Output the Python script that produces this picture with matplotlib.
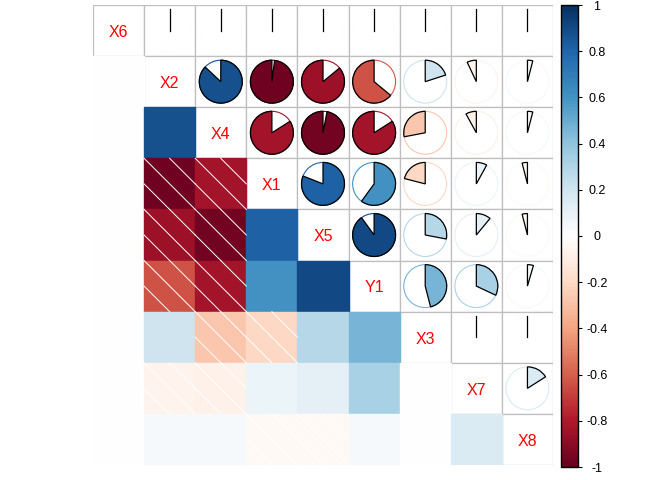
import numpy as np
import matplotlib
matplotlib.use("Agg")
import matplotlib.pyplot as plt
from matplotlib.colors import LinearSegmentedColormap, Normalize
from matplotlib.patches import Rectangle, Wedge, Circle
import matplotlib.colorbar as mcolorbar

labels = ["X6", "X2", "X4", "X1", "X5", "Y1", "X3", "X7", "X8"]

# upper-triangle correlations, one list per row (columns to the right of the diagonal)
r_X6 = [0, 0, 0, 0, 0, 0, 0, 0]
r_X2 = [0.87, -0.98, -0.86, -0.64, 0.20, -0.07, 0.04]
r_X4 = [-0.84, -0.97, -0.84, -0.28, -0.08, 0.04]
r_X1 = [0.81, 0.60, -0.21, 0.08, -0.04]
r_X5 = [0.90, 0.28, 0.11, -0.04]
r_Y1 = [0.46, 0.32, 0.045]
r_X3 = [0, 0]
r_X7 = [0.16]
upper_rows = [r_X6, r_X2, r_X4, r_X1, r_X5, r_Y1, r_X3, r_X7]

n = len(labels)
corr = np.eye(n)
for i, row in enumerate(upper_rows):
    for k, v in enumerate(row):
        j = i + 1 + k
        corr[i, j] = v
        corr[j, i] = v

cols = ["#67001F", "#B2182B", "#D6604D", "#F4A582", "#FDDBC7", "#FFFFFF",
        "#D1E5F0", "#92C5DE", "#4393C3", "#2166AC", "#053061"]
cmap = LinearSegmentedColormap.from_list("RdBu_cp", cols, N=200)
norm = Normalize(-1, 1)

fig = plt.figure(figsize=(6.72, 4.8), dpi=100)
ax = fig.add_axes([93 / 672, 15 / 480, 460 / 672, 460 / 480])
ax.set_xlim(-0.5, n - 0.5)
ax.set_ylim(-0.5, n - 0.5)
ax.axis("off")

grid_col = "#BEBEBE"
rad = 0.42

for i in range(n):
    for j in range(n):
        x, y = j, n - 1 - i
        r = corr[i, j]
        c = cmap(norm(r))
        if j >= i:
            ax.add_patch(Rectangle((x - 0.5, y - 0.5), 1, 1, facecolor="white",
                                   edgecolor=grid_col, lw=0.9, zorder=1))
        if j == i:
            ax.text(x, y - 0.035, labels[i], color="red", fontsize=11.5, ha="center",
                    va="center", family="Liberation Sans", zorder=4)
        elif j > i:
            ax.add_patch(Circle((x, y), rad, facecolor="none", edgecolor=c,
                                lw=0.8, zorder=3))
            if r > 0:
                ax.add_patch(Wedge((x, y), rad, 90 - 360 * r, 90, facecolor=c,
                                   edgecolor="black", lw=0.9, zorder=3))
            elif r < 0:
                ax.add_patch(Wedge((x, y), rad, 90, 90 - 360 * r, facecolor=c,
                                   edgecolor="black", lw=0.9, zorder=3))
            else:
                ax.plot([x, x], [y, y + rad], color="black", lw=0.9, zorder=3)
        else:
            ax.add_patch(Rectangle((x - 0.5, y - 0.5), 1, 1, facecolor=c,
                                   edgecolor=c, lw=1.0, zorder=2))
            if r < 0:
                segs = [((x - 0.5, y + 0.5), (x + 0.5, y - 0.5)),
                        ((x - 0.5, y), (x, y - 0.5)),
                        ((x, y + 0.5), (x + 0.5, y))]
                for (x0, y0), (x1, y1) in segs:
                    ax.plot([x0, x1], [y0, y1], color="white", lw=0.7, zorder=2.5)

# colour legend
cax = fig.add_axes([561 / 672, 13 / 480, 17 / 672, 462 / 480])
cb = mcolorbar.ColorbarBase(cax, cmap=cmap, norm=norm, orientation="vertical",
                            ticks=np.linspace(-1, 1, 11))
cb.outline.set_linewidth(1.0)
cb.outline.set_edgecolor("black")
tick_vals = np.linspace(-1, 1, 11)
cb.set_ticklabels(["%g" % round(t, 1) for t in tick_vals])
cax.tick_params(axis="y", length=3, width=0.8, pad=10.5, labelsize=9)
for lab in cax.get_yticklabels():
    lab.set_horizontalalignment("center")
    lab.set_family("Liberation Sans")

fig.savefig("out.png", dpi=100)
